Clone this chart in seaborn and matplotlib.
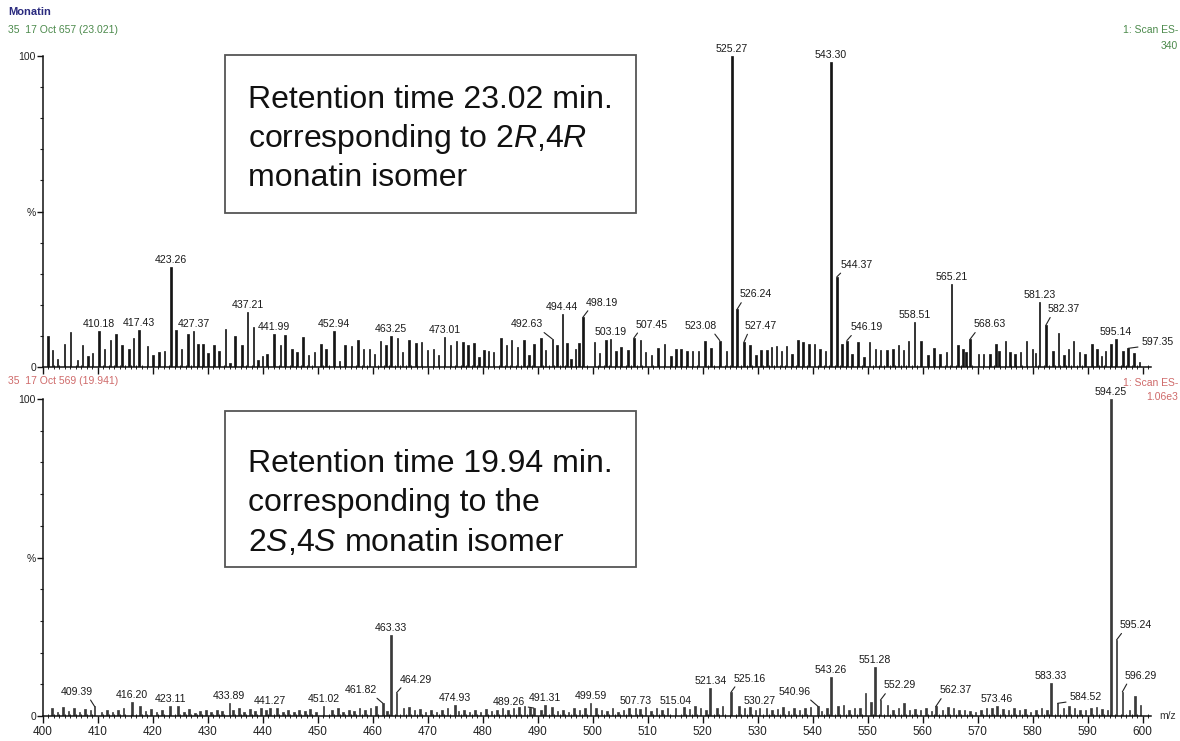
import numpy as np
import pandas as pd
import matplotlib
matplotlib.use("Agg")
import matplotlib.pyplot as plt
from matplotlib.patches import Rectangle
from matplotlib.ticker import MultipleLocator, FixedLocator
import seaborn as sns

# ---------------- upper spectrum (RT 23.02 min, 2R,4R) ----------------
top_peak_mz = [410.18, 417.43, 423.26, 427.37, 437.21, 441.99, 452.94, 463.25,
               473.01, 492.63, 494.44, 498.19, 503.19, 507.45, 523.08, 525.27,
               526.24, 527.47, 543.30, 544.37, 546.19, 558.51, 565.21, 568.63,
               581.23, 582.37, 595.14, 597.35]
top_peak_int = [11.5, 12.0, 32.0, 11.5, 17.6, 10.7, 11.5, 10.0,
                9.5, 9.0, 17.0, 16.0, 9.0, 9.3, 8.5, 100.0,
                18.6, 8.0, 98.0, 29.0, 8.5, 14.5, 26.8, 9.0,
                21.0, 13.4, 9.0, 6.0]

top_noise_mz = [
    400.9, 401.7, 402.6, 403.9, 405.0, 406.3, 407.2, 408.2, 409.0,
    411.2, 412.3, 413.3, 414.4, 415.6, 416.5,
    419.0, 420.0, 421.1, 422.1,
    424.2, 425.2, 426.4,
    428.2, 429.1, 430.0, 431.1, 432.0, 433.2, 434.0, 434.9, 436.2,
    438.3, 439.1, 439.9, 440.7,
    443.2, 444.0, 445.3, 446.2, 447.3, 448.3, 449.4, 450.6, 451.5,
    453.9, 454.9, 456.1, 457.3, 458.3, 459.4, 460.3, 461.4, 462.4,
    464.5, 465.4, 466.6, 467.8, 468.8, 469.9, 471.0, 471.9,
    474.1, 475.2, 476.4, 477.3, 478.4, 479.3, 480.2, 481.0, 481.9,
    483.3, 484.3, 485.2, 486.3, 487.5, 488.4, 489.3, 490.6, 491.4,
    493.5,
    495.3, 496.0, 496.8, 497.5,
    500.3, 501.2, 502.4,
    504.2, 505.1, 506.4,
    508.7, 509.6, 510.7, 511.8, 513.0, 514.2, 515.1, 516.0, 517.1,
    518.1, 519.2, 520.4, 521.5,
    524.3,
    528.6, 529.7, 530.6, 531.7, 532.5, 533.4, 534.3, 535.2, 536.2,
    537.3, 538.2, 539.3, 540.3, 541.3, 542.3,
    545.3, 547.1, 548.2, 549.3, 550.3, 551.4, 552.3, 553.5, 554.6,
    555.6, 556.5, 557.4,
    559.7, 560.9, 562.0, 563.1, 564.3,
    566.4, 567.3, 567.9,
    570.1, 571.0, 572.2, 573.3, 573.9, 575.0, 575.9, 576.8, 577.8,
    578.9, 579.95, 580.5,
    583.7, 584.7, 585.7, 586.5, 587.4, 588.5, 589.5, 590.8, 591.7,
    592.5, 593.2, 594.2,
    596.4, 598.4, 599.4]
top_noise_int = [
    10.0, 5.4, 2.5, 7.5, 11.3, 2.2, 7.0, 3.5, 4.6,
    5.7, 8.6, 10.7, 7.0, 5.7, 9.2,
    6.8, 3.9, 4.9, 5.1,
    11.8, 5.7, 10.5,
    7.5, 7.5, 4.6, 7.0, 5.1, 12.1, 1.4, 10.0, 7.0,
    13.0, 2.2, 3.5, 4.3,
    7.0, 10.3, 5.9, 4.8, 9.6, 3.8, 4.8, 7.5, 5.9,
    1.9, 7.0, 6.8, 8.6, 5.7, 5.7, 4.3, 8.5, 7.0,
    9.4, 4.8, 8.6, 7.7, 8.0, 5.4, 5.9, 3.8,
    7.0, 8.3, 8.0, 7.2, 7.7, 3.2, 5.6, 5.0, 4.8,
    9.3, 7.2, 8.8, 6.4, 8.6, 3.8, 7.5, 9.3, 5.6,
    7.0,
    7.7, 2.7, 5.9, 7.7,
    8.0, 4.5, 8.6,
    5.0, 6.4, 5.6,
    8.6, 4.8, 4.0, 6.1, 7.5, 3.4, 5.9, 5.9, 5.0,
    5.0, 5.0, 8.3, 6.1,
    5.0,
    7.0, 4.0, 5.4, 5.6, 6.4, 6.6, 5.1, 6.6, 4.3,
    8.8, 8.0, 7.5, 7.5, 5.9, 5.0,
    7.5, 4.3, 8.0, 3.2, 8.0, 5.9, 5.4, 5.6, 5.9,
    7.0, 5.4, 8.3,
    8.3, 3.8, 6.1, 4.3, 4.8,
    7.0, 5.9, 4.8,
    4.3, 4.3, 4.3, 7.5, 5.0, 8.3, 4.8, 4.3, 4.8,
    8.3, 5.9, 4.5,
    5.0, 11.0, 3.8, 5.9, 8.3, 4.8, 4.3, 7.5, 5.9,
    3.5, 5.0, 7.5,
    5.0, 4.5, 1.6]

# ---------------- lower spectrum (RT 19.94 min, 2S,4S) ----------------
bot_peak_mz = [409.39, 416.20, 423.11, 433.89, 441.27, 451.02, 461.82, 463.33,
               464.29, 474.93, 489.26, 491.31, 499.59, 507.73, 515.04, 521.34,
               525.16, 530.27, 540.96, 543.26, 551.28, 552.29, 562.37, 573.46,
               583.33, 584.52, 594.25, 595.24, 596.29]
bot_peak_int = [3.0, 4.5, 3.0, 4.0, 2.5, 3.0, 4.0, 25.5,
                7.3, 3.5, 2.5, 3.5, 4.0, 2.5, 2.5, 8.8,
                7.6, 2.5, 3.0, 12.3, 15.5, 5.0, 3.0, 3.0,
                10.4, 4.0, 100.0, 24.0, 7.6]

# baseline ions at nominal masses 401..599
bot_noise_mz = np.arange(401, 600) + 0.6
bot_noise_int = [
    2.6, 1.4, 2.8, 1.6, 2.4, 1.2, 2.2, 1.8, 2.0, 1.4,
    1.8, 1.2, 2.0, 2.4, 3.2, 2.0, 3.0, 1.6, 2.2, 1.2,
    1.8, 2.6, 2.0, 3.2, 1.4, 2.2, 1.0, 1.6, 1.8, 1.2,
    2.0, 1.6, 2.4, 2.0, 2.6, 1.4, 2.2, 1.6, 2.4, 2.0,
    1.8, 2.6, 1.4, 2.0, 1.2, 1.8, 1.6, 2.2, 1.4, 2.0,
    2.2, 1.8, 2.6, 1.4, 2.0, 1.6, 2.4, 1.8, 2.6, 3.0,
    2.0, 1.6, 1.2, 3.4, 2.6, 2.8, 1.8, 2.2, 1.4, 2.0,
    1.2, 1.8, 2.4, 2.6, 1.6, 2.0, 1.4, 1.8, 1.2, 2.2,
    1.6, 2.0, 2.4, 1.8, 2.6, 2.8, 3.0, 2.4, 2.2, 1.8,
    2.2, 2.8, 1.6, 2.0, 1.4, 2.6, 1.8, 2.4, 3.0, 2.6,
    2.0, 1.6, 2.4, 1.4, 2.0, 2.6, 1.8, 2.2, 2.8, 1.6,
    2.4, 1.8, 2.6, 2.0, 2.6, 2.8, 2.2, 3.0, 2.4, 2.0,
    1.8, 2.6, 3.2, 2.2, 1.6, 3.2, 2.4, 2.8, 2.0, 1.8,
    2.6, 1.8, 2.2, 2.8, 1.6, 2.4, 2.0, 2.6, 2.8, 2.2,
    1.6, 2.4, 1.8, 3.2, 3.4, 2.0, 2.4, 2.6, 7.2, 4.4,
    2.0, 2.4, 3.6, 2.0, 2.6, 4.0, 1.8, 2.2, 2.0, 2.6,
    1.6, 2.2, 2.0, 2.8, 2.6, 1.8, 2.0, 1.6, 1.4, 2.0,
    2.4, 2.6, 1.8, 2.2, 2.0, 2.6, 1.8, 2.2, 1.4, 2.0,
    2.4, 1.8, 2.2, 2.0, 2.4, 3.2, 2.6, 2.0, 1.8, 2.4,
    2.8, 2.2, 2.0, 3.0, 2.4, 2.6, 2.0, 6.2, 3.4]

x_ticks = list(range(400, 601, 10))

# label placement (points): peaks whose label sits beside the stick
top_label_shift = {
    "492.63": (-18, 7), "498.19": (14, 7), "507.45": (13, 6),
    "523.08": (-14, 7), "526.24": (13, 7), "527.47": (12, 8),
    "544.37": (14, 5), "546.19": (14, 6), "568.63": (14, 7),
    "582.37": (13, 8), "597.35": (21, 1),
}
bot_label_shift = {
    "409.39": (-13, 7), "461.82": (-16, 6), "464.29": (14, 6),
    "489.26": (-18, 1), "525.16": (13, 6), "540.96": (-17, 7),
    "552.29": (14, 7), "562.37": (14, 8), "584.52": (20, 1),
    "595.24": (14, 7), "596.29": (13, 8),
}

sns.set_theme(style="ticks")
plt.rcParams["font.family"] = ["Liberation Sans", "DejaVu Sans"]
plt.rcParams["mathtext.fontset"] = "custom"
plt.rcParams["mathtext.rm"] = "Liberation Sans"
plt.rcParams["mathtext.it"] = "Liberation Sans:italic"

W, H = 1180, 741
fig = plt.figure(figsize=(W / 100, H / 100), dpi=100)
fig.patch.set_facecolor("white")


def build_frame(peak_mz, peak_int, noise_mz, noise_int):
    peaks = pd.DataFrame({"mz": peak_mz, "intensity": peak_int})
    noise = pd.DataFrame({"mz": noise_mz, "intensity": noise_int})
    pk = np.asarray(peak_mz)
    keep = [np.min(np.abs(pk - m)) > 0.6 for m in noise["mz"]]
    return pd.concat([noise[keep], peaks], ignore_index=True)


def draw_panel(ax, df, peak_mz, peak_int, shifts, color, show_xlabels):
    mz_sorted = np.unique(df["mz"])
    step = np.min(np.diff(mz_sorted))
    sns.barplot(data=df, x="mz", y="intensity", native_scale=True,
                orient="x", errorbar=None, color=color, saturation=1,
                width=0.28 / step, linewidth=0.5, edgecolor=color, ax=ax)
    ax.set_xlim(400, 601.5)
    ax.set_ylim(0, 100)
    ax.set_xlabel("")
    ax.set_ylabel("")
    ax.set_facecolor("white")
    sns.despine(ax=ax)
    for s in ("left", "bottom"):
        ax.spines[s].set_color("#111111")
        ax.spines[s].set_linewidth(1.1)
    ax.xaxis.set_major_locator(FixedLocator(x_ticks))
    ax.xaxis.set_minor_locator(MultipleLocator(1))
    ax.tick_params(axis="x", which="major", length=5, width=1.0,
                   color="#111111", direction="out", labelsize=8.5,
                   pad=2, labelbottom=show_xlabels, labelcolor="#222222")
    ax.tick_params(axis="x", which="minor", length=2.5, width=0.7,
                   color="#222222", direction="inout")
    ax.yaxis.set_major_locator(FixedLocator([0, 50, 100]))
    ax.set_yticklabels(["0", "%", "100"])
    ax.yaxis.set_minor_locator(MultipleLocator(10))
    ax.tick_params(axis="y", which="major", length=4, width=1.0,
                   color="#111111", labelsize=7.5, pad=1,
                   labelcolor="#222222")
    ax.tick_params(axis="y", which="minor", length=2, width=0.8,
                   color="#222222")
    ax.grid(False)
    for mz, h in zip(peak_mz, peak_int):
        lab = f"{mz:.2f}"
        if lab in shifts:
            dx, dy = shifts[lab]
            ax.annotate(lab, xy=(mz, h), xytext=(dx, dy),
                        textcoords="offset points", ha="center", va="bottom",
                        fontsize=7.6, color="#1a1a1a", annotation_clip=False,
                        arrowprops=dict(arrowstyle="-", lw=0.8, color="#222222",
                                        shrinkA=0, shrinkB=0,
                                        relpos=(0.15, 0.1) if dx > 0 else (0.85, 0.1)))
        else:
            ax.annotate(lab, xy=(mz, h), xytext=(0, 1.5),
                        textcoords="offset points", ha="center", va="bottom",
                        fontsize=7.6, color="#1a1a1a", annotation_clip=False)


ax_top = fig.add_axes([43 / W, 1 - 367 / H, 1108 / W, 311 / H])
ax_bot = fig.add_axes([43 / W, 1 - 716 / H, 1108 / W, 317 / H])

top_df = build_frame(top_peak_mz, top_peak_int, top_noise_mz, top_noise_int)
bot_df = build_frame(bot_peak_mz, bot_peak_int, bot_noise_mz, bot_noise_int)
draw_panel(ax_top, top_df, top_peak_mz, top_peak_int, top_label_shift,
           "#151515", False)
draw_panel(ax_bot, bot_df, bot_peak_mz, bot_peak_int, bot_label_shift,
           "#3a3a3a", True)

ax_bot.annotate("m/z", xy=(1, 0), xycoords="axes fraction", xytext=(6, 0),
                textcoords="offset points", ha="left", va="center",
                fontsize=7.5, color="#333333")


def ftext(x, y, s, **kw):
    fig.text(x / W, 1 - y / H, s, **kw)


# header lines
ftext(8, 12, "Monatin", fontsize=8, fontweight="bold", color="#2a2a7e",
      va="center")
ftext(8, 30, "35  17 Oct 657 (23.021)", fontsize=7.5, color="#4c8a4c",
      va="center")
ftext(1178, 30, "1: Scan ES-", fontsize=7.5, color="#4c8a4c", va="center",
      ha="right")
ftext(1178, 46, "340", fontsize=7.5, color="#4c8a4c", va="center", ha="right")
ftext(8, 381, "35  17 Oct 569 (19.941)", fontsize=7.5, color="#cf6a6a",
      va="center")
ftext(1178, 383, "1: Scan ES-", fontsize=7.5, color="#cf6a6a", va="center",
      ha="right")
ftext(1178, 397, "1.06e3", fontsize=7.5, color="#cf6a6a", va="center",
      ha="right")

# annotation boxes
for (x0, y0, x1, y1) in [(225, 55, 636, 213), (225, 411, 636, 567)]:
    fig.add_artist(Rectangle((x0 / W, 1 - y1 / H), (x1 - x0) / W,
                             (y1 - y0) / H, transform=fig.transFigure,
                             fill=True, facecolor="white", edgecolor="#555555",
                             linewidth=1.3, zorder=5))

box_kw = dict(fontsize=23, color="#111111", va="baseline", ha="left",
              zorder=6)
ftext(248, 108, "Retention time 23.02 min.", **box_kw)
ftext(248, 147, r"corresponding to $\mathit{2R}$,4$\mathit{R}$", **box_kw)
ftext(248, 186, "monatin isomer", **box_kw)
ftext(248, 472, "Retention time 19.94 min.", **box_kw)
ftext(248, 511, "corresponding to the", **box_kw)
ftext(248, 551, r"2$\mathit{S}$,4$\mathit{S}$ monatin isomer", **box_kw)

fig.savefig("out.png", dpi=100, facecolor="white")
